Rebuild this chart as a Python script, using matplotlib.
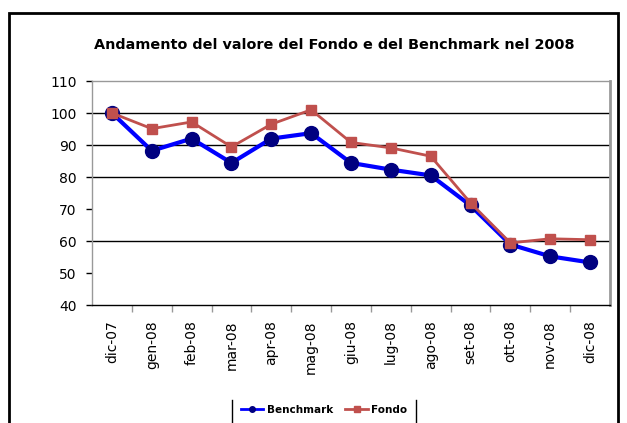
import matplotlib
matplotlib.use("Agg")
import matplotlib.pyplot as plt
from matplotlib.lines import Line2D
from matplotlib.patches import Rectangle

categories = ["dic-07", "gen-08", "feb-08", "mar-08", "apr-08", "mag-08", "giu-08",
              "lug-08", "ago-08", "set-08", "ott-08", "nov-08", "dic-08"]
benchmark = [100.0, 88.2, 92.0, 84.4, 92.0, 93.7, 84.4, 82.3, 80.5, 71.1, 58.9, 55.2, 53.3]
fondo = [100.0, 95.1, 97.2, 89.4, 96.5, 101.0, 90.8, 89.1, 86.5, 71.9, 59.4, 60.7, 60.4]
yticks = [40, 50, 60, 70, 80, 90, 100, 110]
gridlines = [60, 80, 90, 100]

W, H = 627, 423
fig = plt.figure(figsize=(W / 100, H / 100), dpi=100)
fig.patch.set_facecolor("white")

# outer frame
fig.add_artist(Rectangle((9 / W, -0.05), (618 - 9) / W, 1 - 13 / H + 0.05,
                         transform=fig.transFigure, fill=False, edgecolor="black", lw=2))

left, right, top, bottom = 92, 610, 81, 305
ax = fig.add_axes([left / W, 1 - bottom / H, (right - left) / W, (bottom - top) / H])

x = list(range(len(categories)))
ax.plot(x, benchmark, color="#0000FF", lw=3, marker="o", markersize=10,
        markerfacecolor="#000080", markeredgecolor="#000080", label="Benchmark", zorder=3)
ax.plot(x, fondo, color="#C0504D", lw=2, marker="s", markersize=7,
        markerfacecolor="#C0504D", markeredgecolor="#C0504D", label="Fondo", zorder=4)

ax.set_xlim(-0.5, len(categories) - 0.5)
ax.set_ylim(40, 110)
ax.set_yticks(yticks)
ax.set_yticklabels([str(v) for v in yticks], fontsize=10, fontfamily="DejaVu Sans")
for g in gridlines:
    ax.axhline(g, color="black", lw=1, zorder=1)

ax.set_xticks(x)
ax.set_xticklabels(categories, rotation=90, fontsize=10, fontfamily="DejaVu Sans")
ax.tick_params(axis="x", length=0, pad=11)
ax.set_xticks([i + 0.5 for i in x[:-1]], minor=True)
ax.tick_params(axis="x", which="minor", length=5, color="#999999", width=1)
ax.tick_params(axis="y", length=4, color="black", width=1, pad=7)

for s in ["top", "left"]:
    ax.spines[s].set_color("#999999")
    ax.spines[s].set_linewidth(1)
ax.spines["right"].set_color("#999999")
ax.spines["right"].set_linewidth(2)
ax.spines["bottom"].set_color("black")
ax.spines["bottom"].set_linewidth(1)

fig.text(334 / W, 1 - 45 / H, "Andamento del valore del Fondo e del Benchmark nel 2008",
         ha="center", va="center", fontsize=10.4, fontfamily="DejaVu Sans", fontweight="bold",
         color="black")

leg = fig.legend(handles=[
    Line2D([], [], color="#0000FF", lw=2, marker="o", markersize=4,
           markerfacecolor="#000080", markeredgecolor="#000080"),
    Line2D([], [], color="#C0504D", lw=2, marker="s", markersize=4,
           markerfacecolor="#C0504D", markeredgecolor="#C0504D")],
    labels=["Benchmark", "Fondo"], loc="center", bbox_to_anchor=(324 / W, 1 - 410 / H),
    ncol=2, frameon=False, prop={"size": 7.5, "weight": "bold"}, handlelength=2.2,
    columnspacing=1.2, handletextpad=0.3)

fig.add_artist(Line2D([232 / W, 232 / W], [1 - 400 / H, 0], transform=fig.transFigure,
                      color="black", lw=1))
fig.add_artist(Line2D([416 / W, 416 / W], [1 - 400 / H, 0], transform=fig.transFigure,
                      color="black", lw=1))

fig.savefig("out.png", dpi=100)
